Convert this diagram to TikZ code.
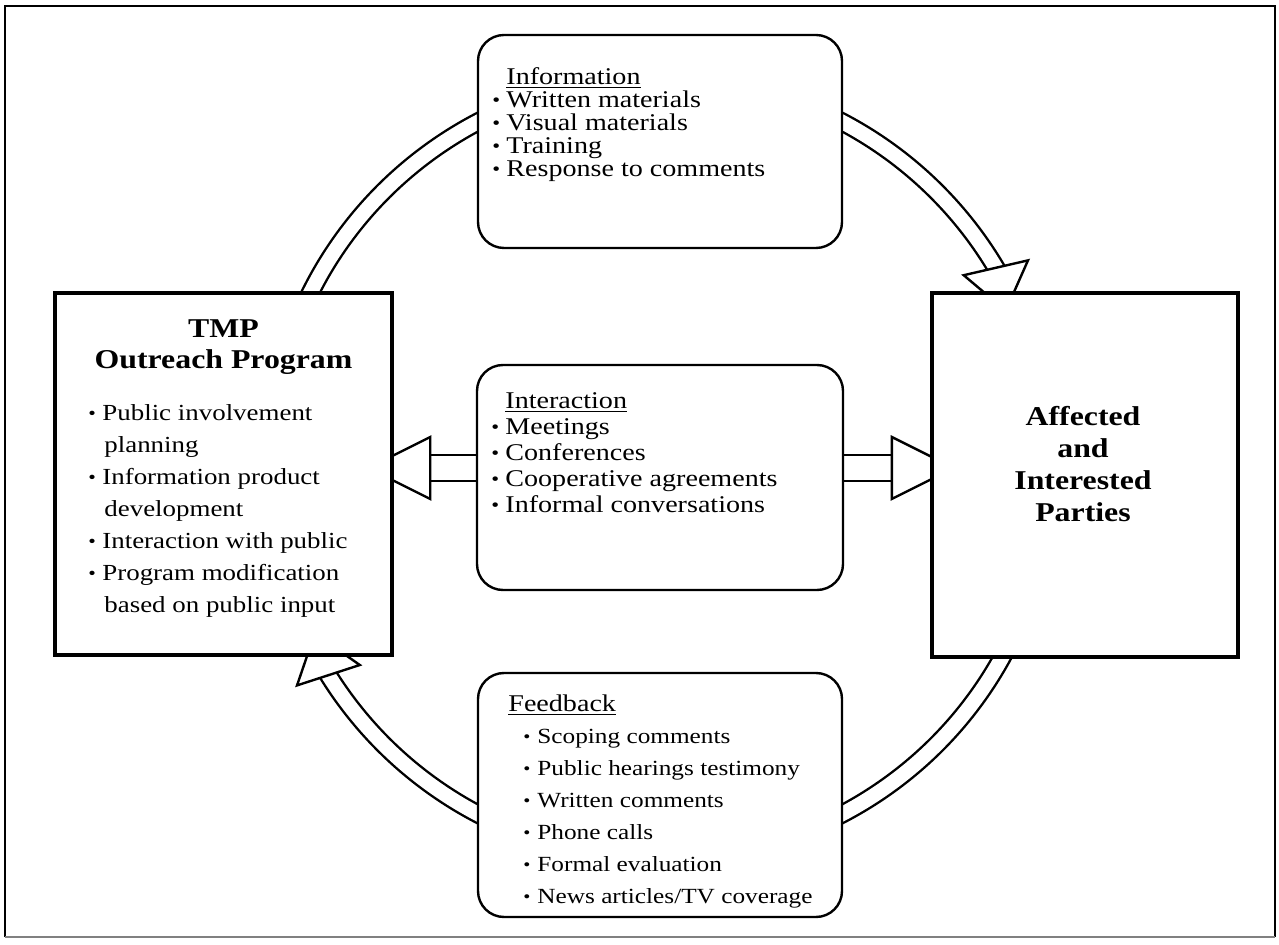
\documentclass[tikz,border=0pt]{standalone}
\usepackage{fontspec}
\setmainfont{Liberation Serif}[FakeStretch=1.17]
\usepackage{graphicx}
\usetikzlibrary{positioning,calc,backgrounds}
\newcommand{\dotitem}{\makebox[7pt][l]{\raisebox{0.05ex}{\scalebox{0.8}{\textbullet}}}}
\tikzset{
  outerbox/.style={draw, line width=2.2pt, fill=white, inner sep=0pt},
  roundbox/.style={draw, line width=1.2pt, fill=white, rounded corners=13pt, inner sep=0pt, minimum width=182pt},
  shaft/.style={double, double distance=#1, line width=1.2pt},
  listtext/.style={inner sep=0pt, align=left, anchor=north west},
  titletext/.style={inner sep=0pt, align=center, anchor=north, font=\fontsize{13.6}{15.5}\selectfont\bfseries},
  curvehead/.pic={\draw[line width=1.2pt, fill=white] (0,-33) -- (44,0) -- (0,33) -- cycle;},
  flathead/.pic={\draw[line width=1.2pt, fill=white] (0,-31) -- (62,0) -- (0,31) -- cycle;}
}
\begin{document}
\begin{tikzpicture}[x=0.5pt, y=-0.5pt]
    \useasboundingbox (0,0) rectangle (1279,945);
    % Frame
    \draw[line width=1pt] (5,937) -- (5,6) -- (1275,6) -- (1275,937);
    \draw[line width=0.8pt, gray] (5,937) -- (1275,937);
    \coordinate (hub) at (660,468);
    % Boxes
    \node[outerbox, minimum width=168.5pt, minimum height=181pt] (tmp) at (223.5,474) {};
    \node[outerbox, minimum width=153pt, minimum height=182pt] (aff) at (1085,475) {};
    \node[roundbox, minimum height=106.5pt] (info) at (660,141.5) {};
    \node[roundbox, minimum width=183pt, minimum height=112.5pt] (inter) at (660,477.5) {};
    \node[roundbox, minimum height=122pt] (feed) at (660,795) {};
    % Texts
    \node[titletext] (tmphead) at (223.5,319) {TMP\\Outreach Program};
    \node[listtext, font=\fontsize{11.5}{16}\selectfont] (tmplist) at (88,404) {%
      \dotitem Public involvement\\ \hspace*{8pt}planning\\
      \dotitem Information product\\ \hspace*{8pt}development\\
      \dotitem Interaction with public\\
      \dotitem Program modification\\ \hspace*{8pt}based on public input};
    \node[titletext, font=\fontsize{13.6}{16}\selectfont\bfseries] (afftext) at (1083,406) {Affected\\and\\Interested\\Parties};
    \node[listtext, font=\fontsize{12}{11.5}\selectfont] (infotext) at (492,67) {%
      \hspace*{7pt}\underline{Information}\\
      \dotitem Written materials\\
      \dotitem Visual materials\\
      \dotitem Training\\
      \dotitem Response to comments};
    \node[listtext, font=\fontsize{12}{13}\selectfont] (intertext) at (491,392) {%
      \hspace*{7pt}\underline{Interaction}\\
      \dotitem Meetings\\
      \dotitem Conferences\\
      \dotitem Cooperative agreements\\
      \dotitem Informal conversations};
    \node[listtext, font=\fontsize{10.8}{16}\selectfont] (feedtext) at (508,694) {%
      {\fontsize{12}{16}\selectfont\underline{Feedback}}\\
      \hspace*{7.5pt}\dotitem Scoping comments\\
      \hspace*{7.5pt}\dotitem Public hearings testimony\\
      \hspace*{7.5pt}\dotitem Written comments\\
      \hspace*{7.5pt}\dotitem Phone calls\\
      \hspace*{7.5pt}\dotitem Formal evaluation\\
      \hspace*{7.5pt}\dotitem News articles/TV coverage};
    % Hollow arrows behind the boxes
    \begin{scope}[on background layer]
        \draw[shaft=7.2pt] (hub) ++(-162:391) arc[start angle=-162, end angle=-28, radius=391];
        \draw[shaft=7.2pt] (hub) ++(24:391) arc[start angle=24, end angle=151, radius=391];
        \pic[rotate=-77] at ($(hub)+(-30.8:391)$) {curvehead};
        \pic[rotate=108] at ($(hub)+(148:391)$) {curvehead};
        \draw[shaft=12pt] ($(tmp.east |- hub)+(32,0)$) -- ($(aff.west |- hub)+(-32,0)$);
        \pic[rotate=180] at ($(tmp.east |- hub)+(36,0)$) {flathead};
        \pic at ($(aff.west |- hub)+(-38,0)$) {flathead};
    \end{scope}
\end{tikzpicture}
\end{document}
